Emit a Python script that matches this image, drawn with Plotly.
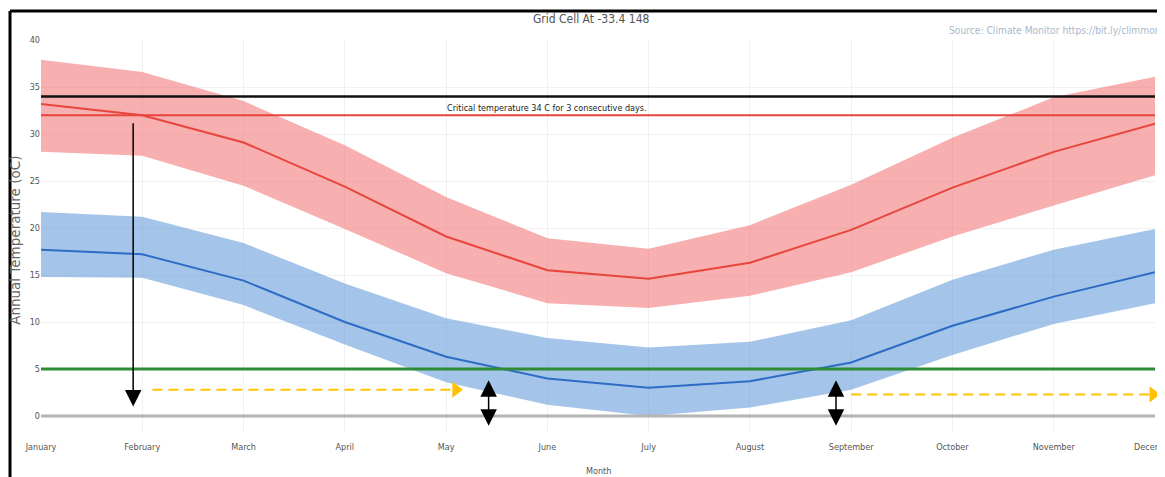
import plotly.graph_objects as go

months = ["January", "February", "March", "April", "May", "June", "July",
          "August", "September", "October", "November", "December"]
xpos = list(range(len(months)))

max_mean = [33.2, 32.0, 29.1, 24.4, 19.1, 15.5, 14.6, 16.3, 19.8, 24.3, 28.1, 31.1]
max_upper = [37.9, 36.6, 33.5, 28.8, 23.3, 18.9, 17.8, 20.3, 24.6, 29.6, 33.9, 36.1]
max_lower = [28.1, 27.7, 24.5, 19.9, 15.2, 12.0, 11.5, 12.8, 15.3, 19.1, 22.4, 25.6]

min_mean = [17.7, 17.2, 14.4, 10.0, 6.3, 4.0, 3.0, 3.7, 5.7, 9.6, 12.7, 15.3]
min_upper = [21.7, 21.2, 18.4, 14.1, 10.4, 8.3, 7.3, 7.9, 10.2, 14.5, 17.7, 19.9]
min_lower = [14.8, 14.7, 11.8, 7.6, 3.6, 1.2, 0.0, 0.9, 2.8, 6.5, 9.8, 12.0]

critical_temp = 34
red_threshold = 32
green_threshold = 5
zero_level = 0

# overlay arrows: (x_tip, y_tip, x_tail, y_tail)
drop_arrow = (0.91, 1.0, 0.91, 31.3)
double_arrows = [(4.42, 3.8, 4.42, -1.2), (7.85, 3.8, 7.85, -1.2)]
# dashed arrows: (x_start, x_tip, y)
dashed_arrows = [(1.10, 4.166, 2.8), (8.0, 11.05, 2.3)]

FONT = "Liberation Sans Narrow, DejaVu Sans Condensed, Arial Narrow, sans-serif"
PX_PER_MONTH = 1114 / 11
HEAD = 14  # triangle marker size

fig = go.Figure()

fig.add_trace(go.Scatter(x=xpos, y=max_upper, mode="lines", line=dict(width=0),
                         hoverinfo="skip", showlegend=False))
fig.add_trace(go.Scatter(x=xpos, y=max_lower, mode="lines", line=dict(width=0),
                         fill="tonexty", fillcolor="rgba(240,110,110,0.55)",
                         hoverinfo="skip", showlegend=False))
fig.add_trace(go.Scatter(x=xpos, y=min_upper, mode="lines", line=dict(width=0),
                         hoverinfo="skip", showlegend=False))
fig.add_trace(go.Scatter(x=xpos, y=min_lower, mode="lines", line=dict(width=0),
                         fill="tonexty", fillcolor="rgba(90,150,215,0.55)",
                         hoverinfo="skip", showlegend=False))

fig.add_trace(go.Scatter(x=xpos, y=max_mean, mode="lines",
                         line=dict(color="#e8453c", width=2), showlegend=False))
fig.add_trace(go.Scatter(x=xpos, y=min_mean, mode="lines",
                         line=dict(color="#2c6cc4", width=2), showlegend=False))

for lvl, col, w in [(zero_level, "#b4b4b4", 3), (green_threshold, "#2e8b36", 3),
                    (red_threshold, "#e8453c", 2), (critical_temp, "#111111", 2.5)]:
    fig.add_trace(go.Scatter(x=[xpos[0], xpos[-1]], y=[lvl, lvl], mode="lines",
                             line=dict(color=col, width=w), showlegend=False,
                             hoverinfo="skip"))

# dashed yellow arrows: shaft + triangle head
head_off = (HEAD / 2) / PX_PER_MONTH
head_len = (HEAD * 0.75) / PX_PER_MONTH
for (xs, xt, yy) in dashed_arrows:
    fig.add_trace(go.Scatter(x=[xs, xt - head_len], y=[yy, yy], mode="lines",
                             line=dict(color="#ffc000", width=2, dash="10px,6px"),
                             showlegend=False, hoverinfo="skip", cliponaxis=False))
fig.add_trace(go.Scatter(x=[a[1] - head_off for a in dashed_arrows],
                         y=[a[2] for a in dashed_arrows], mode="markers",
                         marker=dict(symbol="triangle-right", size=HEAD, color="#ffc000",
                                     line=dict(width=0)),
                         showlegend=False, hoverinfo="skip", cliponaxis=False))

annotations = []
annotations.append(dict(x=drop_arrow[0], y=drop_arrow[1], ax=drop_arrow[2], ay=drop_arrow[3],
                        xref="x", yref="y", axref="x", ayref="y", text="",
                        showarrow=True, arrowhead=2, arrowsize=2.2, arrowwidth=1.5,
                        arrowcolor="#000000", standoff=0))
for (x0, y0, x1, y1) in double_arrows:
    annotations.append(dict(x=x0, y=y0, ax=x1, ay=y1,
                            xref="x", yref="y", axref="x", ayref="y", text="",
                            showarrow=True, arrowhead=2, startarrowhead=2,
                            arrowside="end+start", arrowsize=2.2, startarrowsize=2.2,
                            arrowwidth=1.5, arrowcolor="#000000",
                            standoff=0, startstandoff=0))

annotations.append(dict(x=5, y=32.8, xref="x", yref="y", showarrow=False,
                        text="Critical temperature 34 C for 3 consecutive days.",
                        font=dict(family=FONT, size=9, color="#222222")))
annotations.append(dict(x=1.0072, y=1.023, xref="paper", yref="paper", showarrow=False,
                        xanchor="right", yanchor="middle",
                        text="Source: Climate Monitor https://bit.ly/climmon",
                        font=dict(family=FONT, size=10.2, color="#a9b9cc")))
annotations.append(dict(x=-0.0234, y=0.49, xref="paper", yref="paper", showarrow=False,
                        xanchor="center", yanchor="middle", textangle=-90,
                        text="Annual Temperature (oC)",
                        font=dict(family="DejaVu Sans", size=13.5, color="#666666")))
annotations.append(dict(x=0.5, y=-0.0995, xref="paper", yref="paper", showarrow=False,
                        xanchor="center", yanchor="middle", text="Month",
                        font=dict(family=FONT, size=9, color="#555555")))

border_x = -31 / 1114
border_y = 1 + 29 / 392
shapes = [
    dict(type="line", xref="paper", yref="paper", x0=border_x, x1=1.02,
         y0=border_y, y1=border_y, line=dict(color="#000000", width=3)),
    dict(type="line", xref="paper", yref="paper", x0=border_x, x1=border_x,
         y0=border_y, y1=-0.2, line=dict(color="#000000", width=3)),
]

fig.update_layout(
    width=1157, height=469,
    margin=dict(l=33, r=10, t=32, b=45),
    plot_bgcolor="white", paper_bgcolor="white",
    title=dict(text="Grid Cell At -33.4 148", x=0.504, xanchor="center",
               y=0.9765, yanchor="middle",
               font=dict(family=FONT, size=12, color="#555555")),
    annotations=annotations,
    shapes=shapes,
    showlegend=False,
    xaxis=dict(range=[0, 11], tickvals=xpos, ticktext=months, showgrid=True,
               gridcolor="#f0f0f0", zeroline=False, automargin=False,
               tickfont=dict(family=FONT, size=9, color="#555555"),
               ticks="", ticklabelstandoff=8, ticklabeloverflow="allow"),
    yaxis=dict(range=[-1.7, 40], tickvals=[0, 5, 10, 15, 20, 25, 30, 35, 40],
               showgrid=True, gridcolor="#f0f0f0", zeroline=False, automargin=False,
               tickfont=dict(family=FONT, size=9, color="#555555"), ticks=""),
)

fig.write_html("out.html")
